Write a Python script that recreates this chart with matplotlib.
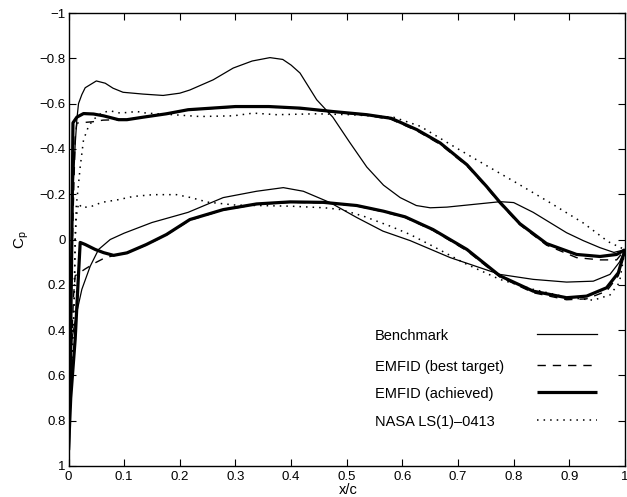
import matplotlib

matplotlib.use("Agg")
import matplotlib.pyplot as plt

plt.rcParams["font.family"] = ["Liberation Sans", "DejaVu Sans"]
plt.rcParams["mathtext.fontset"] = "custom"
plt.rcParams["mathtext.rm"] = "Liberation Sans"
plt.rcParams["mathtext.it"] = "Liberation Sans:italic"

# Benchmark (thin solid)
bench_up_x = [0, 0.002, 0.005, 0.008, 0.012, 0.015, 0.018, 0.024, 0.03, 0.05, 0.066, 0.08, 0.098,
              0.134, 0.17, 0.2, 0.218, 0.26, 0.296, 0.33, 0.362, 0.385, 0.40, 0.416, 0.446, 0.475,
              0.505, 0.536, 0.566, 0.596, 0.625, 0.65, 0.68, 0.716, 0.776, 0.8, 0.835, 0.865, 0.895,
              0.925, 0.955, 0.98, 1.0]
bench_up_y = [0.93, 0.6, 0.2, -0.2, -0.42, -0.53, -0.6, -0.64, -0.67, -0.70, -0.69, -0.668, -0.65,
              -0.642, -0.636, -0.646, -0.66, -0.705, -0.757, -0.788, -0.803, -0.795, -0.77, -0.735,
              -0.617, -0.54, -0.43, -0.32, -0.24, -0.185, -0.15, -0.14, -0.143, -0.152, -0.167,
              -0.163, -0.12, -0.075, -0.03, 0.005, 0.036, 0.057, 0.045]
bench_lo_x = [0, 0.003, 0.006, 0.015, 0.024, 0.039, 0.054, 0.075, 0.1, 0.15, 0.215, 0.278, 0.338,
              0.386, 0.422, 0.47, 0.518, 0.565, 0.614, 0.686, 0.775, 0.835, 0.895, 0.943, 0.973,
              0.99, 1.0]
bench_lo_y = [0.93, 0.7, 0.44, 0.32, 0.22, 0.118, 0.044, 0.0, -0.028, -0.075, -0.12, -0.185,
              -0.213, -0.229, -0.213, -0.163, -0.097, -0.037, 0.005, 0.08, 0.154, 0.176, 0.188,
              0.184, 0.154, 0.10, 0.045]

# EMFID best target (dashed)
target_up_x = [0, 0.003, 0.007, 0.012, 0.015, 0.044, 0.062, 0.09, 0.105, 0.134, 0.176, 0.215, 0.3,
               0.36, 0.416, 0.475, 0.536, 0.58, 0.626, 0.668, 0.716, 0.751, 0.775, 0.811, 0.859,
               0.913, 0.955, 0.985, 1.0]
target_up_y = [0.93, 0.5, 0.0, -0.45, -0.514, -0.52, -0.527, -0.529, -0.53, -0.541, -0.556, -0.572,
               -0.585, -0.585, -0.578, -0.563, -0.548, -0.53, -0.48, -0.42, -0.325, -0.23, -0.16,
               -0.065, 0.025, 0.08, 0.09, 0.09, 0.045]
target_lo_x = [0, 0.005, 0.009, 0.012, 0.03, 0.048, 0.066, 0.084, 0.105, 0.14, 0.176, 0.218, 0.278,
               0.338, 0.398, 0.458, 0.518, 0.566, 0.605, 0.655, 0.716, 0.775, 0.835, 0.895, 0.931,
               0.967, 0.988, 1.0]
target_lo_y = [0.93, 0.5, 0.25, 0.16, 0.13, 0.103, 0.08, 0.07, 0.06, 0.024, -0.02, -0.085, -0.13,
               -0.155, -0.164, -0.162, -0.148, -0.122, -0.097, -0.04, 0.05, 0.165, 0.235, 0.266,
               0.262, 0.228, 0.16, 0.045]

# EMFID achieved (thick solid)
achieved_up_x = [0, 0.003, 0.006, 0.008, 0.015, 0.027, 0.045, 0.063, 0.09, 0.105, 0.134, 0.176,
                 0.215, 0.3, 0.36, 0.416, 0.475, 0.536, 0.58, 0.626, 0.668, 0.716, 0.751, 0.775,
                 0.811, 0.859, 0.913, 0.955, 0.985, 1.0]
achieved_up_y = [0.93, 0.6, 0.0, -0.515, -0.54, -0.556, -0.554, -0.546, -0.529, -0.529, -0.54,
                 -0.555, -0.573, -0.587, -0.587, -0.58, -0.565, -0.551, -0.535, -0.485, -0.426,
                 -0.33, -0.235, -0.165, -0.07, 0.018, 0.066, 0.075, 0.066, 0.045]
achieved_lo_x = [0, 0.004, 0.012, 0.017, 0.021, 0.03, 0.048, 0.063, 0.081, 0.105, 0.14, 0.176,
                 0.218, 0.278, 0.338, 0.398, 0.458, 0.518, 0.566, 0.605, 0.655, 0.716, 0.775, 0.835,
                 0.895, 0.931, 0.967, 0.988, 1.0]
achieved_lo_y = [0.93, 0.7, 0.44, 0.2, 0.013, 0.022, 0.044, 0.058, 0.07, 0.059, 0.022, -0.022,
                 -0.088, -0.132, -0.157, -0.166, -0.164, -0.15, -0.125, -0.1, -0.044, 0.044, 0.16,
                 0.228, 0.257, 0.25, 0.213, 0.147, 0.045]

# NASA LS(1)-0413 (dotted)
nasa_up_x = [0, 0.005, 0.01, 0.012, 0.014, 0.017, 0.021, 0.027, 0.036, 0.045, 0.06, 0.075, 0.093,
             0.123, 0.14, 0.188, 0.236, 0.296, 0.332, 0.374, 0.446, 0.506, 0.584, 0.632, 0.686,
             0.745, 0.805, 0.865, 0.925, 0.97, 1.0]
nasa_up_y = [0.93, 0.6, 0.3, 0.0, -0.15, -0.22, -0.32, -0.44, -0.5, -0.53, -0.56, -0.568, -0.558,
             -0.565, -0.558, -0.551, -0.543, -0.546, -0.558, -0.551, -0.555, -0.551, -0.54, -0.5,
             -0.42, -0.335, -0.25, -0.163, -0.073, 0.01, 0.045]
nasa_lo_x = [0, 0.005, 0.01, 0.012, 0.014, 0.018, 0.024, 0.042, 0.06, 0.09, 0.116, 0.152, 0.194,
             0.22, 0.25, 0.3, 0.4, 0.46, 0.49, 0.53, 0.578, 0.614, 0.655, 0.716, 0.775, 0.835,
             0.895, 0.943, 0.973, 0.99, 1.0]
nasa_lo_y = [0.93, 0.6, 0.3, 0.0, -0.1, -0.16, -0.14, -0.147, -0.164, -0.176, -0.19, -0.198,
             -0.198, -0.185, -0.165, -0.152, -0.147, -0.14, -0.132, -0.103, -0.059, -0.022, 0.03,
             0.11, 0.176, 0.22, 0.255, 0.268, 0.245, 0.19, 0.045]

legend_labels = ["Benchmark", "EMFID (best target)", "EMFID (achieved)", "NASA LS(1)\u20130413"]
x_ticks = [0, 0.1, 0.2, 0.3, 0.4, 0.5, 0.6, 0.7, 0.8, 0.9, 1]
x_tick_labels = ["0", "0.1", "0.2", "0.3", "0.4", "0.5", "0.6", "0.7", "0.8", "0.9", "1"]
y_ticks = [-1, -0.8, -0.6, -0.4, -0.2, 0, 0.2, 0.4, 0.6, 0.8, 1]
y_tick_labels = ["\u22121", "\u22120.8", "\u22120.6", "\u22120.4", "\u22120.2", "0",
                 "0.2", "0.4", "0.6", "0.8", "1"]

fig = plt.figure(figsize=(6.27, 4.97), dpi=100)
ax = fig.add_axes([68.5 / 627, 31 / 497, 556.5 / 627, 453 / 497])

thin = dict(color="black", lw=0.9, ls="-", solid_joinstyle="round")
dashed = dict(color="black", lw=1.0, ls=(0, (6, 5)))
thick = dict(color="black", lw=2.3, ls="-", solid_capstyle="butt", solid_joinstyle="round")
dotted = dict(color="black", lw=1.1, ls=(0, (1, 3.3)))
styles = [thin, dashed, thick, dotted]

ax.plot(nasa_up_x, nasa_up_y, **dotted)
ax.plot(nasa_lo_x, nasa_lo_y, **dotted)
ax.plot(bench_up_x, bench_up_y, **thin)
ax.plot(bench_lo_x, bench_lo_y, **thin)
ax.plot(achieved_up_x, achieved_up_y, **thick)
ax.plot(achieved_lo_x, achieved_lo_y, **thick)
ax.plot(target_up_x, target_up_y, **dashed)
ax.plot(target_lo_x, target_lo_y, **dashed)

# matlab-style legend: labels left, line samples right, no frame
row_y = [0.287, 0.219, 0.159, 0.098]
for label, st, yy in zip(legend_labels, styles, row_y):
    ax.text(0.551, yy, label, transform=ax.transAxes, fontsize=10.5, va="center", ha="left")
    ax.plot([0.842, 0.95], [yy + 0.004, yy + 0.004], transform=ax.transAxes, **st)

ax.set_xlim(0, 1)
ax.set_ylim(1, -1)
ax.set_xticks(x_ticks)
ax.set_xticklabels(x_tick_labels)
ax.set_yticks(y_ticks)
ax.set_yticklabels(y_tick_labels)
ax.tick_params(direction="in", top=True, right=True, length=5, width=0.8, labelsize=9.5)
ax.tick_params(axis="y", pad=2)
for sp in ax.spines.values():
    sp.set_linewidth(1.0)

ax.set_xlabel("x/c", fontsize=10.5)
ax.xaxis.set_label_coords(0.502, -0.037)
ax.set_ylabel(r"$\mathregular{C_p}$", fontsize=11)
ax.yaxis.set_label_coords(-0.068, 0.5)

fig.savefig("out.png", dpi=100)
